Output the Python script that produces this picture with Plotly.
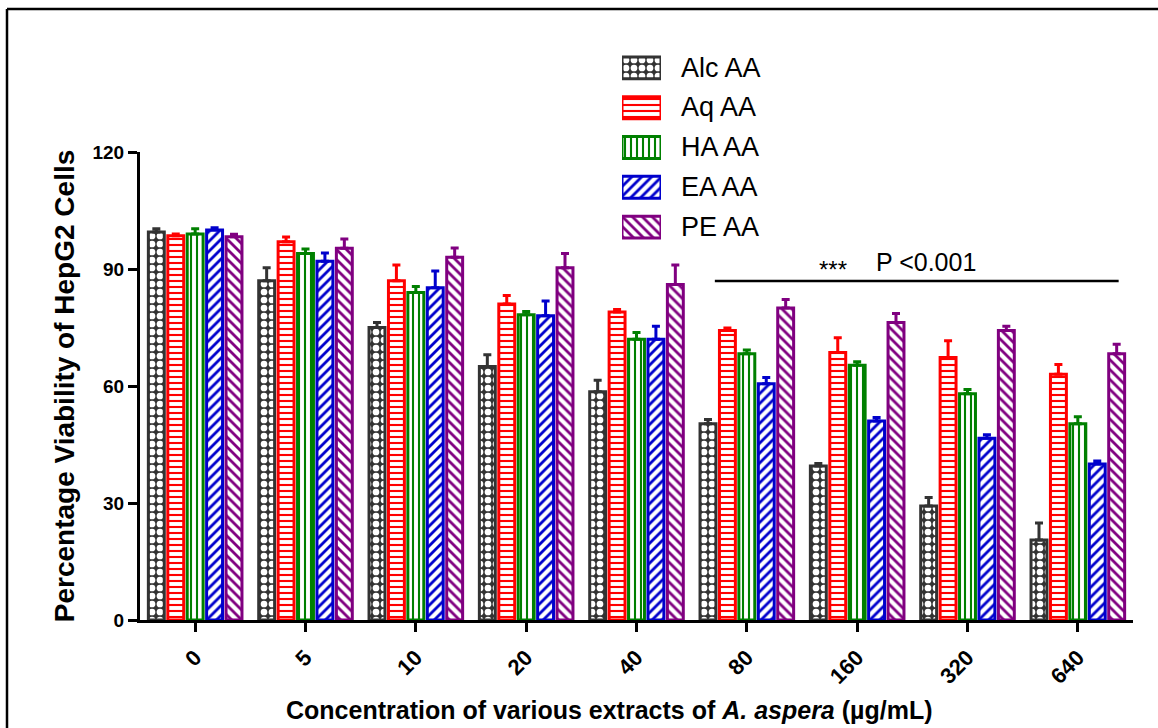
import plotly.graph_objects as go

categories = ["0", "5", "10", "20", "40", "80", "160", "320", "640"]
series_names = ["Alc AA", "Aq AA", "HA AA", "EA AA", "PE AA"]

alc = [99.5, 87, 75, 65, 58.5, 50.3, 39.5, 29.2, 20.5]
aq = [98.5, 97, 87, 81, 79, 74.2, 68.6, 67.3, 63]
ha = [99, 94, 84, 78.3, 72, 68.3, 65.3, 58, 50.3]
ea = [100, 92, 85.2, 78, 72, 60.6, 51, 46.6, 40]
pe = [98.3, 95.3, 93, 90.3, 86, 80, 76.3, 74.2, 68.3]

alc_err = [0.8, 3.3, 1.3, 3, 3, 1.1, 0.6, 2.2, 4.4]
aq_err = [0.5, 1.2, 4, 2.2, 0.6, 0.7, 3.8, 4.3, 2.5]
ha_err = [1.3, 1.1, 1.5, 0.8, 1.7, 0.9, 0.9, 1.1, 1.8]
ea_err = [0.6, 2.1, 4.3, 3.8, 3.3, 1.6, 0.9, 0.9, 0.8]
pe_err = [0.6, 2.4, 2.4, 3.7, 5, 2.2, 2.3, 1.1, 2.4]

values = [alc, aq, ha, ea, pe]
errors = [alc_err, aq_err, ha_err, ea_err, pe_err]
colors = ["#333333", "#ff0000", "#008000", "#0000cc", "#800080"]
patterns = [
    dict(shape=".", fgcolor="#ffffff", bgcolor="#333333", size=8, solidity=0.55, fillmode="replace"),
    dict(shape="-", fgcolor="#ff0000", bgcolor="#ffffff", size=6, solidity=0.35, fillmode="replace"),
    dict(shape="|", fgcolor="#008000", bgcolor="#ffffff", size=6, solidity=0.35, fillmode="replace"),
    dict(shape="/", fgcolor="#0000cc", bgcolor="#ffffff", size=7, solidity=0.4, fillmode="replace"),
    dict(shape="\\", fgcolor="#800080", bgcolor="#ffffff", size=7, solidity=0.4, fillmode="replace"),
]

FONT = "Arial, 'Liberation Sans', sans-serif"
W, H = 1158, 728


def px(x):
    return x / W


def py(y):
    return (H - y) / H


fig = go.Figure()
for name, vals, errs, col, pat in zip(series_names, values, errors, colors, patterns):
    fig.add_trace(go.Bar(
        x=categories, y=vals, name=name, showlegend=False,
        marker=dict(color=col, line=dict(color=col, width=3), pattern=pat),
        error_y=dict(type="data", array=errs, arrayminus=[0] * len(errs), symmetric=False,
                     color=col, thickness=3, width=4),
    ))

# legend swatches (drawn as bars on a small helper axis so they keep the patterns)
for name, col, pat in zip(series_names, colors, patterns):
    fig.add_trace(go.Bar(
        x=[1], y=[name], orientation="h", xaxis="x2", yaxis="y2", width=0.55,
        showlegend=False, hoverinfo="skip",
        marker=dict(color=col, line=dict(color=col, width=3), pattern=pat),
    ))

fig.update_layout(
    width=W, height=H,
    margin=dict(l=0, r=0, t=0, b=0),
    paper_bgcolor="white", plot_bgcolor="rgba(0,0,0,0)",
    font=dict(family=FONT, color="black"),
    barmode="group", bargap=0.12, bargroupgap=0.18,
    showlegend=False,
    xaxis=dict(
        domain=[px(140), px(1133)],
        type="category", range=[-0.5, 8.5], automargin=False,
        showline=True, linecolor="black", linewidth=3,
        ticks="outside", ticklen=9, tickwidth=3, tickcolor="black",
        tickangle=-45, tickfont=dict(size=22, family=FONT, weight="bold"),
        ticklabelstandoff=4,
        showgrid=False, zeroline=False,
    ),
    yaxis=dict(
        domain=[py(620), py(152)],
        range=[0, 120], tickvals=[0, 30, 60, 90, 120], automargin=False,
        showline=True, linecolor="black", linewidth=3,
        ticks="outside", ticklen=9, tickwidth=3, tickcolor="black",
        tickfont=dict(size=19, family=FONT, weight="bold"),
        title=dict(text="<b>Percentage Viability of HepG2 Cells</b>",
                   font=dict(size=28, family=FONT), standoff=10),
        showgrid=False, zeroline=False,
    ),
    xaxis2=dict(domain=[px(622), px(661)], range=[0, 1], anchor="y2",
                visible=False, fixedrange=True),
    yaxis2=dict(domain=[py(247), py(48)], type="category",
                categoryorder="array", categoryarray=series_names[::-1],
                range=[-0.5, 4.5], anchor="x2", visible=False, fixedrange=True),
)

# legend labels
legend_centers = [68, 107, 147, 187, 227]
for name, yc in zip(series_names, legend_centers):
    fig.add_annotation(x=px(679), y=py(yc), xref="paper", yref="paper",
                       xanchor="left", yanchor="middle", text=name, showarrow=False,
                       font=dict(size=27, family=FONT, color="black"))

# x-axis title
fig.add_annotation(x=px(609), y=py(710), xref="paper", yref="paper", yanchor="middle",
                   text="<b>Concentration of various extracts of <i>A. aspera</i> (µg/mL)</b>",
                   showarrow=False, font=dict(size=25, family=FONT, color="black"))

# significance line and label
fig.add_shape(type="line", xref="x", yref="y", x0=4.71, x1=8.37, y0=86.9, y1=86.9,
              line=dict(color="black", width=2.5))
fig.add_annotation(x=5.78, y=90.0, xref="x", yref="y", text="***", showarrow=False,
                   font=dict(size=24, family=FONT, color="black"))
fig.add_annotation(x=6.62, y=91.8, xref="x", yref="y", text="P <0.001", showarrow=False,
                   font=dict(size=25, family=FONT, color="black"))

# outer frame (top and left edges)
fig.add_shape(type="line", xref="paper", yref="paper", x0=px(7), x1=1.0, y0=py(9), y1=py(9),
              line=dict(color="black", width=2.5))
fig.add_shape(type="line", xref="paper", yref="paper", x0=px(7), x1=px(7), y0=0, y1=py(9),
              line=dict(color="black", width=2.5))

fig.write_html("out.html")
